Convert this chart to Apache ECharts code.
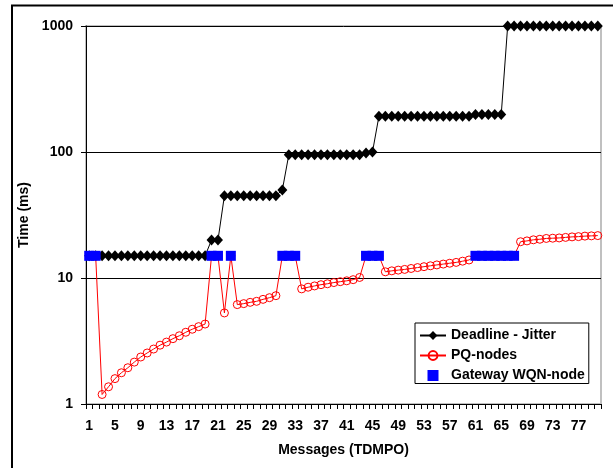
<!DOCTYPE html>
<html>
<head>
<meta charset="utf-8">
<script src="https://cdn.jsdelivr.net/npm/echarts@6/dist/echarts.min.js"></script>
<style>
html,body{margin:0;padding:0;background:#fff;}
#chart{width:613px;height:468px;}
</style>
</head>
<body>
<div id="chart"></div>
<script>
var categories = Array.from({length: 80}, function (_, i) { return String(i + 1); });

var deadlineJitter = [
  15,15,15,15,15,15,15,15,15,15,15,15,15,15,15,15,15,15,15,
  20,20,
  45,45,45,45,45,45,45,45,45,
  50,
  95,95,95,95,95,95,95,95,95,95,95,95,
  98,100,
  192,192,192,192,192,192,192,192,192,192,192,192,192,192,192,
  198,198,198,198,198,
  1000,1000,1000,1000,1000,1000,1000,1000,1000,1000,1000,1000,1000,1000,1000
];

var pqNodes = [
  15,15,
  1.19,1.37,1.59,1.77,1.94,2.15,2.36,2.54,2.73,2.93,3.1,3.3,3.48,3.71,3.92,4.11,4.31,
  15,15,
  5.28,
  15,
  6.15,6.26,6.41,6.53,6.77,6.98,7.24,
  15,15,15,
  8.2,8.45,8.65,8.85,9.0,9.2,9.35,9.5,9.7,10.1,
  15,15,15,
  11.2,11.4,11.55,11.7,11.9,12.1,12.3,12.5,12.7,12.9,13.1,13.3,13.6,13.9,
  15,15,15,15,15,15,15,
  19.4,19.7,20.1,20.3,20.6,20.7,20.8,21.0,21.2,21.3,21.5,21.6,21.7
];

var gatewayMessages = [1,2,20,21,23,31,32,33,44,45,46,61,62,63,64,65,66,67];
var gatewayValues   = [15,15,15,15,15,15,15,15,15,15,15,15,15,15,15,15,15,15];

var yTicks = [1, 10, 100, 1000];

var gatewayData = gatewayMessages.map(function (m, i) { return [String(m), gatewayValues[i]]; });

var font = 'Arial, "Liberation Sans", sans-serif';
var chart = echarts.init(document.getElementById('chart'), null, {renderer: 'canvas'});
chart.setOption({
  animation: false,
  backgroundColor: '#fff',
  textStyle: {fontFamily: font},
  graphic: [{
    type: 'rect',
    shape: {x: 12, y: 5.5, width: 640, height: 500},
    style: {fill: 'none', stroke: '#000', lineWidth: 2},
    silent: true,
    z: 0
  }],
  grid: {
    left: 86, right: 12, top: 26, bottom: 64,
    show: true, borderColor: '#c0c0c0', borderWidth: 2, backgroundColor: 'transparent'
  },
  legend: {
    orient: 'vertical',
    left: 415, top: 323,
    padding: [5.5, 4, 1, 4],
    itemGap: 6,
    itemWidth: 26, itemHeight: 11,
    backgroundColor: '#fff',
    borderColor: '#000', borderWidth: 1,
    textStyle: {fontFamily: font, fontSize: 14, fontWeight: 'bold', color: '#000'},
    data: [
      {name: 'Deadline - Jitter'},
      {name: 'PQ-nodes'},
      {name: 'Gateway WQN-node', icon: 'path://M0,0h10v10h-10z'}
    ]
  },
  xAxis: {
    type: 'category',
    data: categories,
    boundaryGap: true,
    name: 'Messages (TDMPO)',
    nameLocation: 'middle',
    nameGap: 39,
    nameTextStyle: {fontFamily: font, fontSize: 14, fontWeight: 'bold', color: '#000'},
    axisLine: {lineStyle: {color: '#000', width: 1}},
    axisTick: {show: true, interval: 0, length: 5, lineStyle: {color: '#000'}},
    axisLabel: {interval: 3, margin: 15, fontFamily: font, fontSize: 14, fontWeight: 'bold', color: '#000'},
    splitLine: {show: false}
  },
  yAxis: {
    type: 'log',
    logBase: 10,
    min: yTicks[0],
    max: yTicks[yTicks.length - 1],
    name: 'Time (ms)',
    nameLocation: 'middle',
    nameGap: 42,
    nameTextStyle: {fontFamily: font, fontSize: 14, fontWeight: 'bold', color: '#000'},
    axisLine: {show: true, lineStyle: {color: '#000', width: 1}},
    axisTick: {show: true, length: 5, lineStyle: {color: '#000'}},
    axisLabel: {
      margin: 13, fontFamily: font, fontSize: 14, fontWeight: 'bold', color: '#000',
      formatter: function (v) { return String(Math.round(v)); }
    },
    splitLine: {show: true, lineStyle: {color: '#000', width: 1}},
    minorTick: {show: false}
  },
  series: [
    {
      name: 'Deadline - Jitter',
      type: 'line',
      data: deadlineJitter,
      symbol: 'diamond',
      showAllSymbol: true,
      symbolSize: [10, 11],
      lineStyle: {color: '#000', width: 1},
      itemStyle: {color: '#000'},
      z: 2
    },
    {
      name: 'PQ-nodes',
      type: 'line',
      data: pqNodes,
      symbol: 'circle',
      showAllSymbol: true,
      symbolSize: 8,
      lineStyle: {color: '#ff0000', width: 1},
      itemStyle: {color: 'rgba(255,255,255,0)', borderColor: '#ff0000', borderWidth: 1},
      z: 3
    },
    {
      name: 'Gateway WQN-node',
      type: 'scatter',
      data: gatewayData,
      symbol: 'rect',
      symbolSize: 10,
      itemStyle: {color: '#0000ff', opacity: 1},
      z: 4
    }
  ]
});
</script>
</body>
</html>
